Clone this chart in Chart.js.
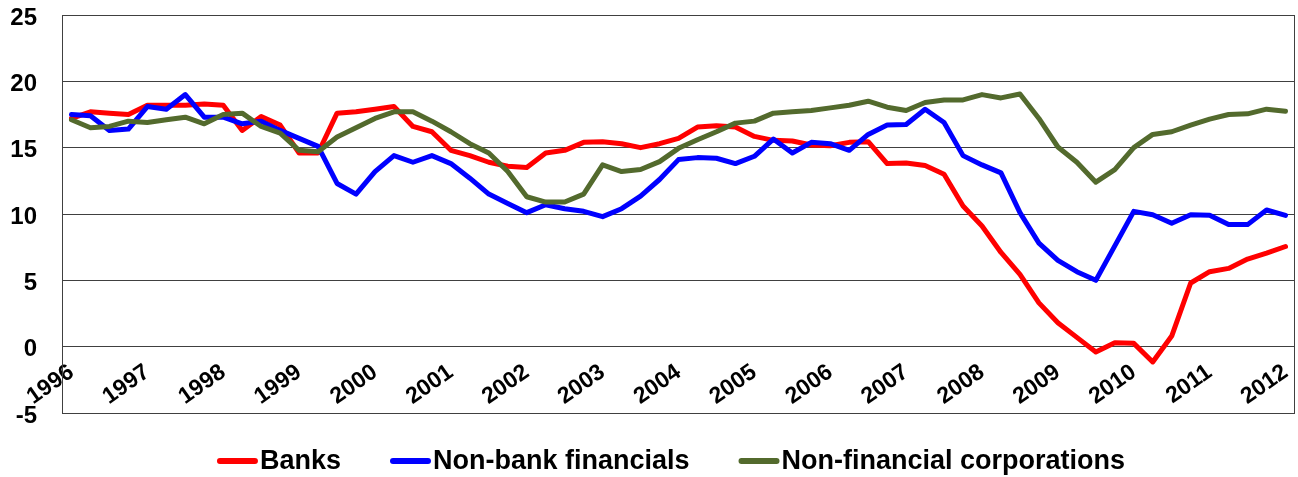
<!DOCTYPE html>
<html>
<head>
<meta charset="utf-8">
<script src="https://cdn.jsdelivr.net/npm/chart.js@4/dist/chart.umd.min.js"></script>
<style>
  html, body { margin: 0; padding: 0; background: #fff; }
  #wrap { width: 1298px; height: 477px; }
</style>
</head>
<body>
<div id="wrap"><canvas id="myChart" width="1298" height="477"></canvas></div>
<script>
// quarterly data, 1996Q1 - 2012Q1
const years = [1996, 1997, 1998, 1999, 2000, 2001, 2002, 2003, 2004, 2005, 2006, 2007, 2008, 2009, 2010, 2011, 2012];
const seriesNames = ['Banks', 'Non-bank financials', 'Non-financial corporations'];
const seriesColors = ['#ff0000', '#0000ff', '#536a2d'];

const banks = [
  17.2, 17.7, 17.6, 17.5, 18.2, 18.2, 18.2, 18.3, 18.2, 16.3, 17.35, 16.7, 14.6, 14.6, 17.6, 17.7,
  17.9, 18.1, 16.6, 16.2, 14.8, 14.4, 13.9, 13.6, 13.5, 14.6, 14.8, 15.4, 15.45, 15.3, 15.0, 15.3,
  15.7, 16.55, 16.65, 16.55, 15.85, 15.55, 15.5, 15.2, 15.15, 15.4, 15.45, 13.8, 13.85, 13.65, 13.0, 10.6,
  9.1, 7.1, 5.45, 3.3, 1.8, 0.7, -0.4, 0.3, 0.25, -1.15, 0.8, 4.8, 5.65, 5.9, 6.6, 7.05,
  7.55
];
const nonBank = [
  17.5, 17.4, 16.3, 16.4, 18.1, 17.9, 19.0, 17.3, 17.3, 16.8, 17.0, 16.3, 15.7, 15.1, 12.3, 11.5,
  13.2, 14.4, 13.9, 14.4, 13.8, 12.7, 11.5, 10.8, 10.1, 10.7, 10.4, 10.2, 9.8, 10.4, 11.35, 12.6,
  14.1, 14.25, 14.2, 13.8, 14.35, 15.65, 14.6, 15.4, 15.3, 14.8, 16.0, 16.7, 16.75, 17.9, 16.9, 14.4,
  13.7, 13.1, 10.1, 7.8, 6.5, 5.65, 5.0, 7.6, 10.2, 9.95, 9.3, 9.95, 9.9, 9.2, 9.2, 10.3,
  9.9
];
const nonFin = [
  17.1, 16.5, 16.6, 17.0, 16.9, 17.1, 17.3, 16.8, 17.5, 17.6, 16.6, 16.1, 14.8, 14.7, 15.8, 16.5,
  17.2, 17.7, 17.7, 17.0, 16.2, 15.3, 14.6, 13.2, 11.3, 10.9, 10.9, 11.5, 13.7, 13.2, 13.35, 13.95,
  14.95, 15.6, 16.2, 16.85, 17.0, 17.6, 17.7, 17.8, 18.0, 18.2, 18.5, 18.05, 17.8, 18.4, 18.6, 18.6,
  19.0, 18.75, 19.05, 17.2, 15.05, 13.9, 12.4, 13.35, 15.0, 16.0, 16.2, 16.7, 17.15, 17.5, 17.55, 17.9,
  17.75
];

const quarters = [];
years.forEach(y => { for (let q = 1; q <= 4; q++) quarters.push(y + 'Q' + q); });
quarters.length = banks.length;

Chart.defaults.font.family = "'Liberation Sans', Arial, sans-serif";
Chart.defaults.font.weight = 'bold';
Chart.defaults.color = '#000';

// box around the plot area
const frame = {
  id: 'frame',
  beforeDatasetsDraw(chart) {
    const a = chart.chartArea, ctx = chart.ctx;
    ctx.save();
    ctx.strokeStyle = '#404040';
    ctx.lineWidth = 1;
    ctx.strokeRect(a.left + 0.5, a.top + 0.5, a.right - a.left - 1, a.bottom - a.top);
    ctx.restore();
  }
};

// legend drawn by hand: line sample right next to the text
const lineLegend = {
  id: 'lineLegend',
  afterDraw(chart) {
    const ctx = chart.ctx;
    const sw = 41, gap = 2, itemGap = 49, y = 461;
    ctx.save();
    ctx.font = "bold 27px 'Liberation Sans', Arial, sans-serif";
    ctx.textBaseline = 'middle';
    const sets = chart.data.datasets;
    const widths = sets.map(d => sw + gap + ctx.measureText(d.label).width);
    const total = widths.reduce((s, w) => s + w, 0) + itemGap * (sets.length - 1);
    let x = 671 - total / 2;
    sets.forEach((d, i) => {
      ctx.strokeStyle = d.borderColor;
      ctx.lineWidth = 6;
      ctx.lineCap = 'round';
      ctx.beginPath();
      ctx.moveTo(x + 3, y);
      ctx.lineTo(x + sw - 3, y);
      ctx.stroke();
      ctx.fillStyle = '#000';
      ctx.fillText(d.label, x + sw + gap, y + 1);
      x += widths[i] + itemGap;
    });
    ctx.restore();
  }
};

const ctx = document.getElementById('myChart').getContext('2d');
const myChart = new Chart(ctx, {
  type: 'line',
  data: {
    labels: quarters,
    datasets: [
      { label: seriesNames[0], data: banks, borderColor: seriesColors[0], backgroundColor: seriesColors[0], order: 3 },
      { label: seriesNames[1], data: nonBank, borderColor: seriesColors[1], backgroundColor: seriesColors[1], order: 2 },
      { label: seriesNames[2], data: nonFin, borderColor: seriesColors[2], backgroundColor: seriesColors[2], order: 1 }
    ]
  },
  options: {
    responsive: false,
    animation: false,
    devicePixelRatio: 1,
    layout: { padding: { top: 15, right: 3, bottom: 64, left: 0 } },
    elements: {
      line: { borderWidth: 5, tension: 0, borderJoinStyle: 'round', borderCapStyle: 'round', fill: false },
      point: { radius: 0, hoverRadius: 0 }
    },
    plugins: { legend: { display: false }, tooltip: { enabled: false } },
    scales: {
      x: {
        type: 'category',
        offset: true,
        position: { y: 0 },
        grid: { display: false, drawTicks: false },
        border: { display: false },
        ticks: {
          autoSkip: false,
          minRotation: 35,
          maxRotation: 35,
          padding: 12,
          font: { size: 23, weight: 'bold' },
          callback: (v, i) => (i % 4 === 0 ? quarters[i].slice(0, 4) : null)
        },
        afterFit(s) { s.paddingLeft = 0; s.paddingRight = 0; }
      },
      y: {
        min: -5,
        max: 25,
        ticks: { stepSize: 5, padding: 25, labelOffset: 3, font: { size: 24, weight: 'bold' } },
        grid: { color: '#404040', drawTicks: false },
        border: { display: true, color: '#404040' },
        afterFit(s) { s.width = 62; s.paddingTop = 0; s.paddingBottom = 0; }
      }
    }
  },
  plugins: [frame, lineLegend]
});
</script>
</body>
</html>
